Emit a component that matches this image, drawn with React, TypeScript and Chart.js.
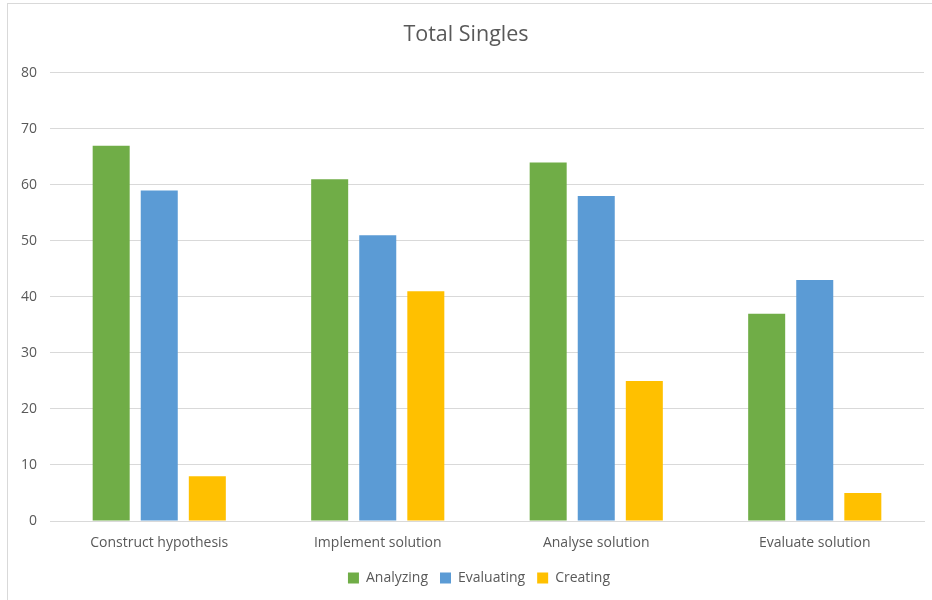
import React, { useEffect, useRef } from "react";
import { Chart, registerables } from "chart.js";

Chart.register(...registerables);

const categories = ["Construct hypothesis", "Implement solution", "Analyse solution", "Evaluate solution"];
const analyzing = [67, 61, 64, 37];
const evaluating = [59, 51, 58, 43];
const creating = [8, 41, 25, 5];
const seriesNames = ["Analyzing", "Evaluating", "Creating"];
const colors = ["#70AD47", "#5B9BD5", "#FFC000"];
const titleText = "Total Singles";

const FONT = "'Open Sans', 'Noto Sans', sans-serif";

const legendShift = {
  id: "legendShift",
  afterLayout(chart: any) {
    if (chart.legend) {
      chart.legend.left += 13;
      chart.legend.right += 13;
    }
  },
};

export default function App() {
  const ref = useRef<HTMLCanvasElement | null>(null);
  useEffect(() => {
    if (!ref.current) return;
    const chart = new Chart(ref.current, {
      type: "bar",
      data: {
        labels: categories,
        datasets: [analyzing, evaluating, creating].map((d, i) => ({
          label: seriesNames[i],
          data: d,
          backgroundColor: colors[i],
          borderWidth: 0,
          categoryPercentage: 0.66,
          barPercentage: 0.77,
        })),
      },
      options: {
        animation: false,
        responsive: false,
        maintainAspectRatio: false,
        layout: { padding: { left: 8, right: 8, top: 0, bottom: 5 } },
        plugins: {
          title: {
            display: true,
            text: titleText,
            color: "#595959",
            font: { family: FONT, size: 21.5, weight: "normal" },
            padding: { top: 22, bottom: 25 },
          },
          legend: {
            position: "bottom",
            labels: {
              color: "#595959",
              font: { family: FONT, size: 14 },
              boxWidth: 11,
              boxHeight: 11,
              padding: 12,
            },
          },
          tooltip: { enabled: false },
        },
        scales: {
          x: {
            grid: { display: false },
            border: { display: true, color: "#d9d9d9" },
            ticks: { color: "#595959", font: { family: FONT, size: 14 }, padding: 6 },
            afterFit: (s: any) => { s.height = 38; },
          },
          y: {
            min: 0,
            max: 80,
            ticks: { stepSize: 10, color: "#595959", font: { family: FONT, size: 14 }, padding: 13 },
            grid: { color: "#d9d9d9", drawTicks: false },
            border: { display: false },
            afterFit: (s: any) => { s.width = 42; },
          },
        },
      },
      plugins: [legendShift],
    });
    return () => chart.destroy();
  }, []);
  return (
    <div style={{ position: "absolute", left: 0, top: 0, width: 932, height: 600, background: "#fff", overflow: "hidden" }}>
      <div style={{ position: "absolute", left: 7, top: 3, width: 940, height: 610, border: "1px solid #d9d9d9" }} />
      <canvas ref={ref} width={932} height={600} style={{ position: "absolute", left: 0, top: 0 }} />
    </div>
  );
}
